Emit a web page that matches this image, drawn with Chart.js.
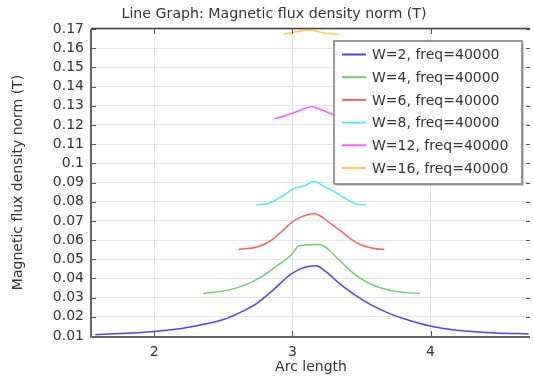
<!DOCTYPE html>
<html>
<head>
<meta charset="utf-8">
<script src="https://cdn.jsdelivr.net/npm/chart.js@4/dist/chart.umd.min.js"></script>
<style>
  html, body { margin: 0; padding: 0; background: #fff; }
  #wrap { width: 533px; height: 378px; }
</style>
</head>
<body>
<div id="wrap"><canvas id="chart" width="533" height="378"></canvas></div>
<script>
// values
const labels = ['W=2, freq=40000', 'W=4, freq=40000', 'W=6, freq=40000',
  'W=8, freq=40000', 'W=12, freq=40000', 'W=16, freq=40000'];
const colors = ['rgb(70,70,255)', 'rgb(110,205,110)', 'rgb(255,95,95)',
  'rgb(80,240,240)', 'rgb(255,90,255)', 'rgb(255,205,80)'];

const w2x = [1.573, 2.0, 2.25, 2.5, 2.62, 2.74, 2.86, 2.98, 3.05, 3.125, 3.17, 3.245, 3.34, 3.46, 3.58, 3.70, 3.82, 3.99, 4.23, 4.47, 4.71];
const w2y = [0.0107, 0.0124, 0.0146, 0.0186, 0.0222, 0.0269, 0.0339, 0.0417, 0.0447, 0.0464, 0.0466, 0.0434, 0.0374, 0.031, 0.0258, 0.0218, 0.0187, 0.0153, 0.0127, 0.0116, 0.0111];
const w4x = [2.355, 2.535, 2.656, 2.776, 2.896, 2.99, 3.05, 3.197, 3.34, 3.44, 3.53, 3.63, 3.775, 3.924];
const w4y = [0.0321, 0.0339, 0.0365, 0.0408, 0.047, 0.0521, 0.057, 0.0577, 0.0495, 0.0428, 0.0384, 0.0353, 0.033, 0.0321];
const w6x = [2.61, 2.75, 2.85, 2.92, 3.0, 3.065, 3.16, 3.27, 3.354, 3.426, 3.5, 3.594, 3.666];
const w6y = [0.0551, 0.0565, 0.06, 0.0643, 0.0695, 0.0721, 0.0737, 0.069, 0.0645, 0.0604, 0.0574, 0.0556, 0.0551];
const w8x = [2.74, 2.824, 2.92, 3.017, 3.09, 3.156, 3.233, 3.305, 3.4, 3.47, 3.534];
const w8y = [0.0783, 0.0791, 0.0826, 0.087, 0.0884, 0.0905, 0.0878, 0.0852, 0.0809, 0.0786, 0.0783];
const w12x = [2.872, 2.932, 3.0, 3.077, 3.137, 3.21, 3.28, 3.345, 3.40];
const w12y = [0.1232, 0.1244, 0.1261, 0.1282, 0.1295, 0.1279, 0.1258, 0.1244, 0.1232];
const w16x = [2.94, 3.017, 3.125, 3.233, 3.34];
const w16y = [0.1674, 0.1684, 0.1695, 0.1679, 0.1672];

const xTicks = [2, 3, 4];
const yTicks = [0.01, 0.02, 0.03, 0.04, 0.05, 0.06, 0.07, 0.08, 0.09, 0.1,
  0.11, 0.12, 0.13, 0.14, 0.15, 0.16, 0.17];

const seriesX = [w2x, w4x, w6x, w8x, w12x, w16x];
const seriesY = [w2y, w4y, w6y, w8y, w12y, w16y];

const FONT = 'DejaVu Sans';
const TEXT = '#333';

const datasets = labels.map((label, i) => ({
  label: label,
  data: seriesX[i].map((x, j) => ({ x: x, y: seriesY[i][j] })),
  borderColor: colors[i],
  borderWidth: 1.5,
  pointRadius: 0,
  cubicInterpolationMode: 'monotone',
  fill: false,
}));

// frame, inward ticks, legend and title drawn over the plot
const overlay = {
  id: 'overlay',
  afterDraw(chart) {
    const ctx = chart.ctx;
    const a = chart.chartArea;
    const xs = chart.scales.x;
    const ys = chart.scales.y;
    ctx.save();

    ctx.strokeStyle = '#555';
    ctx.lineWidth = 1;
    yTicks.forEach((v) => {
      const py = Math.round(ys.getPixelForValue(v)) + 0.5;
      ctx.beginPath();
      ctx.moveTo(a.left, py); ctx.lineTo(a.left + 4, py);
      ctx.moveTo(a.right, py); ctx.lineTo(a.right - 4, py);
      ctx.stroke();
    });
    xTicks.forEach((v) => {
      const px = Math.round(xs.getPixelForValue(v)) + 0.5;
      ctx.beginPath();
      ctx.moveTo(px, a.bottom); ctx.lineTo(px, a.bottom - 5);
      ctx.moveTo(px, a.top); ctx.lineTo(px, a.top + 5);
      ctx.stroke();
    });

    ctx.strokeStyle = '#666';
    ctx.lineWidth = 2;
    ctx.beginPath();
    ctx.moveTo(a.left - 1, a.top);
    ctx.lineTo(a.left - 1, a.bottom + 1);
    ctx.lineTo(a.right, a.bottom + 1);
    ctx.stroke();
    ctx.strokeStyle = '#444';
    ctx.lineWidth = 1.5;
    ctx.beginPath();
    ctx.moveTo(a.left - 1, a.top - 0.5);
    ctx.lineTo(a.right, a.top - 0.5);
    ctx.stroke();

    // legend box
    const lx = 334, ly = 41, lw = 188, lh = 143;
    ctx.fillStyle = 'rgba(0,0,0,0.18)';
    ctx.fillRect(lx + 2, ly + 2, lw, lh);
    ctx.fillStyle = '#fff';
    ctx.fillRect(lx, ly, lw, lh);
    ctx.strokeStyle = '#7a7a7a';
    ctx.lineWidth = 1.5;
    ctx.strokeRect(lx, ly, lw, lh);
    ctx.font = '14px "' + FONT + '"';
    ctx.textBaseline = 'middle';
    ctx.textAlign = 'left';
    chart.data.datasets.forEach((ds, i) => {
      const ry = ly + 13.5 + i * 22.7;
      ctx.strokeStyle = ds.borderColor;
      ctx.lineWidth = 2;
      ctx.beginPath();
      ctx.moveTo(lx + 8, ry); ctx.lineTo(lx + 32, ry);
      ctx.stroke();
      ctx.fillStyle = TEXT;
      ctx.fillText(ds.label, lx + 38, ry + 1);
    });

    ctx.font = '14.2px "' + FONT + '"';
    ctx.textAlign = 'center';
    ctx.fillStyle = TEXT;
    ctx.fillText('Line Graph: Magnetic flux density norm (T)', 274, 14);
    ctx.restore();
  },
};

new Chart(document.getElementById('chart'), {
  type: 'line',
  data: { datasets: datasets },
  options: {
    responsive: false,
    animation: false,
    layout: { padding: { top: 29, right: 3, bottom: 0, left: 0 } },
    plugins: { legend: { display: false }, title: { display: false }, tooltip: { enabled: false } },
    scales: {
      x: {
        type: 'linear',
        min: 1.55,
        max: 4.72,
        afterBuildTicks: (s) => { s.ticks = xTicks.map((v) => ({ value: v })); },
        afterFit: (s) => { s.height = 42; },
        grid: { color: '#e4e4e4', drawTicks: false },
        border: { display: false },
        ticks: { padding: 8, color: TEXT, font: { family: FONT, size: 14 }, maxRotation: 0, autoSkip: false },
        title: { display: true, text: 'Arc length', color: TEXT, padding: 2, font: { family: FONT, size: 14 } },
      },
      y: {
        type: 'linear',
        min: 0.01,
        max: 0.17,
        afterBuildTicks: (s) => { s.ticks = yTicks.map((v) => ({ value: v })); },
        afterFit: (s) => { s.width = 92; },
        grid: { color: '#e4e4e4', drawTicks: false },
        border: { display: false },
        ticks: {
          padding: 8,
          autoSkip: false,
          color: TEXT,
          font: { family: FONT, size: 14 },
          callback: (v) => String(Number(v.toFixed(2))),
        },
        title: { display: true, text: 'Magnetic flux density norm (T)', color: TEXT, padding: 10, font: { family: FONT, size: 14 } },
      },
    },
  },
  plugins: [overlay],
});
</script>
</body>
</html>
